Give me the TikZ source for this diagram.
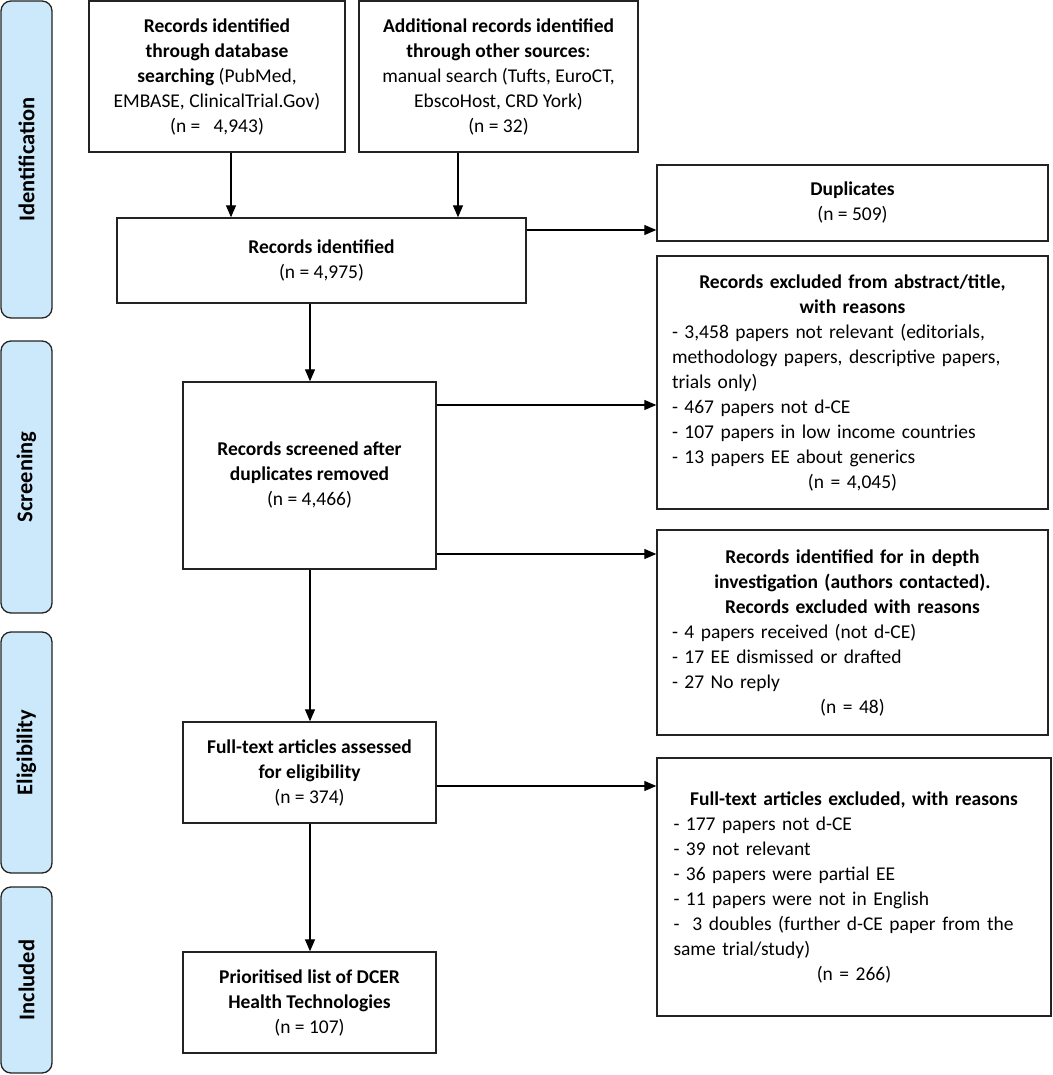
\documentclass[tikz,border=0pt]{standalone}
\usepackage{fontspec}
\setmainfont{Carlito}
\usetikzlibrary{arrows.meta}
\definecolor{barblue}{RGB}{204,233,252}
\definecolor{edgec}{RGB}{35,35,35}
\newcommand\fsz{\fontsize{19.5}{25}\selectfont}
\newcommand\barfsz{\fontsize{22.5}{27}\selectfont}
\tikzset{
  box/.style={draw=edgec, line width=1.4pt, align=center, inner sep=0pt, font=\fsz},
  rbox/.style={box, align=left, text width=361pt, inner xsep=15pt, minimum width=391pt},
  bar/.style={draw=edgec, line width=1.3pt, fill=barblue, rounded corners=10pt, rotate=90,
    minimum height=51pt, inner sep=0pt, font=\barfsz\bfseries},
  arr/.style={line width=1.3pt, draw=black, -{Triangle[length=12pt,width=10pt]}},
}
\begin{document}
\begin{tikzpicture}[x=1pt,y=-1pt]
\useasboundingbox (0,0) rectangle (1052,1075);
% side bars
\node[bar, minimum width=317pt] (idbar) at (26.5,159.5) {Identification};
\node[bar, minimum width=272pt] (scbar) at (26.5,477) {Screening};
\node[bar, minimum width=241pt] (elbar) at (26.5,752.5) {Eligibility};
\node[bar, minimum width=186pt] (inbar) at (26.5,980) {Included};
% main column
\node[box, minimum width=256pt, minimum height=151pt] (A) at (217,76.5)
  {\textbf{Records identified}\\ \textbf{through database}\\ \textbf{searching} (PubMed,\\ EMBASE, ClinicalTrial.Gov)\\ (n =\ \ \ 4,943)};
\node[box, minimum width=279pt, minimum height=151pt] (B) at (498.5,76.5)
  {\textbf{Additional records identified}\\ \textbf{through other sources}:\\ manual search (Tufts, EuroCT,\\ EbscoHost, CRD York)\\ (n = 32)};
\node[box, minimum width=409pt, minimum height=85pt] (C) at (321.5,260.5)
  {\textbf{Records identified}\\ (n = 4,975)};
\node[box, minimum width=253pt, minimum height=187pt] (D) at (309.5,475.5)
  {\textbf{Records screened after}\\ \textbf{duplicates removed}\\ (n = 4,466)};
\node[box, minimum width=253pt, minimum height=101pt] (E) at (309.5,772.5)
  {\textbf{Full-text articles assessed}\\ \textbf{for eligibility}\\ (n = 374)};
\node[box, minimum width=253pt, minimum height=101pt] (F) at (309.5,1002.5)
  {\textbf{Prioritised list of DCER}\\ \textbf{Health Technologies}\\ (n = 107)};
% right column
\node[box, minimum width=391pt, minimum height=76pt] (Dup) at (852.5,203)
  {\textbf{Duplicates}\\ (n = 509)};
\node[rbox, minimum height=253pt] (Ex) at (852.5,382.5)
  {{\centering\bfseries Records excluded from abstract/title,\\ with reasons\par}
   {\raggedright - 3,458 papers not relevant (editorials,\\ methodology papers, descriptive papers,\\ trials only)\\ - 467 papers not d-CE\\ - 107 papers in low income countries\\ - 13 papers EE about generics\par}
   {\centering (n = 4,045)\par}};
\node[rbox, minimum height=205pt] (In) at (852.5,632.5)
  {{\centering\bfseries Records identified for in depth\\ investigation (authors contacted).\\ Records excluded with reasons\par}
   {\raggedright - 4 papers received (not d-CE)\\ - 17 EE dismissed or drafted\\ - 27 No reply\par}
   {\centering (n = 48)\par}};
\node[rbox, minimum width=394pt, minimum height=258pt] (FE) at (854,887)
  {{\centering\bfseries Full-text articles excluded, with reasons\par}
   {\raggedright - 177 papers not d-CE\\ - 39 not relevant\\ - 36 papers were partial EE\\ - 11 papers were not in English\\ -\ \ 3 doubles (further d-CE paper from the\\ same trial/study)\par}
   {\centering (n = 266)\par}\vspace*{26pt}};
% connectors
\draw[arr] (A.south -| 231,0) -- (C.north -| 231,0);
\draw[arr] (B.south -| 458,0) -- (C.north -| 458,0);
\draw[arr] (C.east |- 0,230) -- (Dup.west |- 0,230);
\draw[arr] (C.south -| 310,0) -- (D.north -| 310,0);
\draw[arr] (D.east |- 0,405) -- (Ex.west |- 0,405);
\draw[arr] (D.east |- 0,554) -- (In.west |- 0,554);
\draw[arr] (D.south -| 310,0) -- (E.north -| 310,0);
\draw[arr] (E.east |- 0,786) -- (FE.west |- 0,786);
\draw[arr] (E.south -| 310,0) -- (F.north -| 310,0);
\end{tikzpicture}
\end{document}
